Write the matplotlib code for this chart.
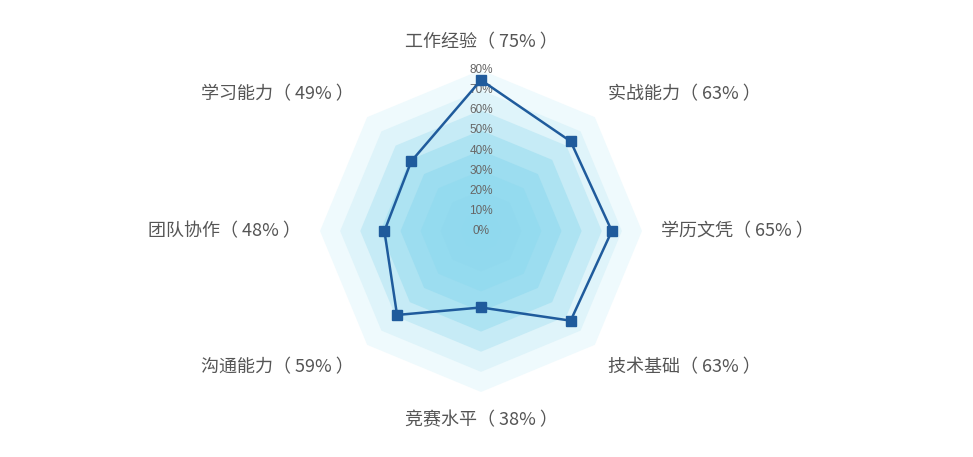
import numpy as np
import matplotlib.pyplot as plt
from matplotlib.patches import Polygon

plt.rcParams['font.family'] = ['Noto Sans CJK SC', 'DejaVu Sans']

# data
skills = ['工作经验', '实战能力', '学历文凭', '技术基础', '竞赛水平', '沟通能力', '团队协作', '学习能力']
values = [75, 63, 65, 63, 38, 59, 48, 49]
ticks = [0, 10, 20, 30, 40, 50, 60, 70, 80]
band_colors = ['#90d9ee', '#91d9ee', '#94dbef', '#9cddf0', '#ade3f2', '#c6ebf6', '#dff4fa', '#effafd']

W, H = 973, 457
cx, cy = 481, 231
rmax = 161
vmax = 80

fig = plt.figure(figsize=(W / 100, H / 100), dpi=100)
ax = fig.add_axes([0, 0, 1, 1])
ax.set_xlim(0, W)
ax.set_ylim(H, 0)
ax.axis('off')

n = len(skills)
ang = np.arange(n) * 2 * np.pi / n  # clockwise from top


def xy(v, a):
    r = v / vmax * rmax
    return cx + r * np.sin(a), cy - r * np.cos(a)


# split areas, outer first
for k in range(len(ticks) - 1, 0, -1):
    pts = [xy(ticks[k], a) for a in ang]
    ax.add_patch(Polygon(pts, closed=True, facecolor=band_colors[k - 1],
                         edgecolor='none', zorder=1))

# tick labels
for t in ticks:
    ax.text(cx, cy - t / vmax * rmax, f'{t}%', ha='center', va='center',
            fontsize=8.5, color='#666666', family='Liberation Sans', zorder=2)

# data series
px, py = zip(*[xy(v, a) for v, a in zip(values, ang)])
px = list(px) + [px[0]]
py = list(py) + [py[0]]
ax.plot(px, py, color='#1f5b9c', lw=1.8, zorder=3)
ax.plot(px[:-1], py[:-1], 's', color='#1f5b9c', ms=7.5, zorder=4)

# axis names
rname = 180
for name, v, a in zip(skills, values, ang):
    x = cx + rname * np.sin(a)
    y = cy - rname * np.cos(a)
    s, c = np.sin(a), np.cos(a)
    ha = 'center' if abs(s) < 1e-6 else ('left' if s > 0 else 'right')
    va = 'center' if abs(c) < 1e-6 else ('bottom' if c > 0 else 'top')
    ax.text(x, y, f'{name}（ {v}% ）', ha=ha, va=va, fontsize=13,
            fontweight='light', color='#555555', zorder=5)

fig.savefig('out.png', dpi=100, facecolor='white')
